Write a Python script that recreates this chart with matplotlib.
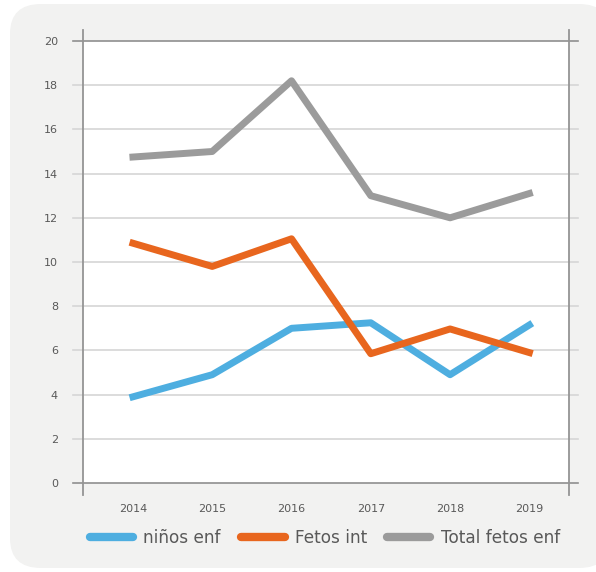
import matplotlib
matplotlib.use('Agg')
import matplotlib.pyplot as plt
from matplotlib.patches import FancyBboxPatch

years = ['2014', '2015', '2016', '2017', '2018', '2019']
ninos_enf = [3.9, 4.9, 7.0, 7.25, 4.9, 7.15]
fetos_int = [10.85, 9.8, 11.05, 5.85, 6.97, 5.9]
total_fetos_enf = [14.75, 15.0, 18.2, 13.0, 12.0, 13.1]
y_ticks = list(range(0, 21, 2))

text_color = '#595959'
plt.rcParams['font.family'] = ['DejaVu Sans']

fig = plt.figure(figsize=(5.96, 5.72), dpi=100)

# rounded grey panel behind everything
panel = FancyBboxPatch((10 / 596, 4 / 572), 600 / 596, 564 / 572,
                       boxstyle='round,pad=0,rounding_size=0.052',
                       transform=fig.transFigure, facecolor='#f2f2f1',
                       edgecolor='none', zorder=-5)
fig.add_artist(panel)

ax = fig.add_axes([83 / 596, 89 / 572, 486 / 596, 442 / 572])
ax.set_zorder(1)
ax.set_facecolor('white')
for s in ax.spines.values():
    s.set_visible(False)

x = list(range(len(years)))
ax.set_xlim(-0.63, 5.5)
ax.set_ylim(0, 20)

# horizontal grid, stretched a bit past both sides
for v in y_ticks:
    col = '#8f8f8f' if v in (0, 20) else '#d6d6d6'
    ax.axhline(v, xmin=-0.02, xmax=1.018, color=col, lw=1.2, clip_on=False, zorder=1)
for xv in (0, 1):
    ax.axvline(ax.get_xlim()[xv], ymin=-0.027, ymax=1.025, color='#949494',
               lw=1.3, clip_on=False, zorder=1)

ax.plot(x, ninos_enf, color='#4eaee0', lw=5, label='niños enf', zorder=3)
ax.plot(x, fetos_int, color='#e8661e', lw=5, label='Fetos int', zorder=3)
ax.plot(x, total_fetos_enf, color='#9b9b9b', lw=5, label='Total fetos enf', zorder=3)

ax.set_yticks(y_ticks)
ax.set_xticks(x)
ax.set_xticklabels(years)
ax.tick_params(axis='both', length=0, labelsize=8, labelcolor=text_color)
ax.tick_params(axis='y', pad=18)
ax.tick_params(axis='x', pad=15)

leg = fig.legend(loc='center', bbox_to_anchor=(325 / 596, 34 / 572), ncol=3,
                 frameon=False, fontsize=12.2, handlelength=2.55,
                 handletextpad=0.6, columnspacing=1.2, labelcolor=text_color)
for h in leg.get_lines():
    h.set_linewidth(6)
    h.set_solid_capstyle('round')

fig.savefig('out.png', dpi=100)
